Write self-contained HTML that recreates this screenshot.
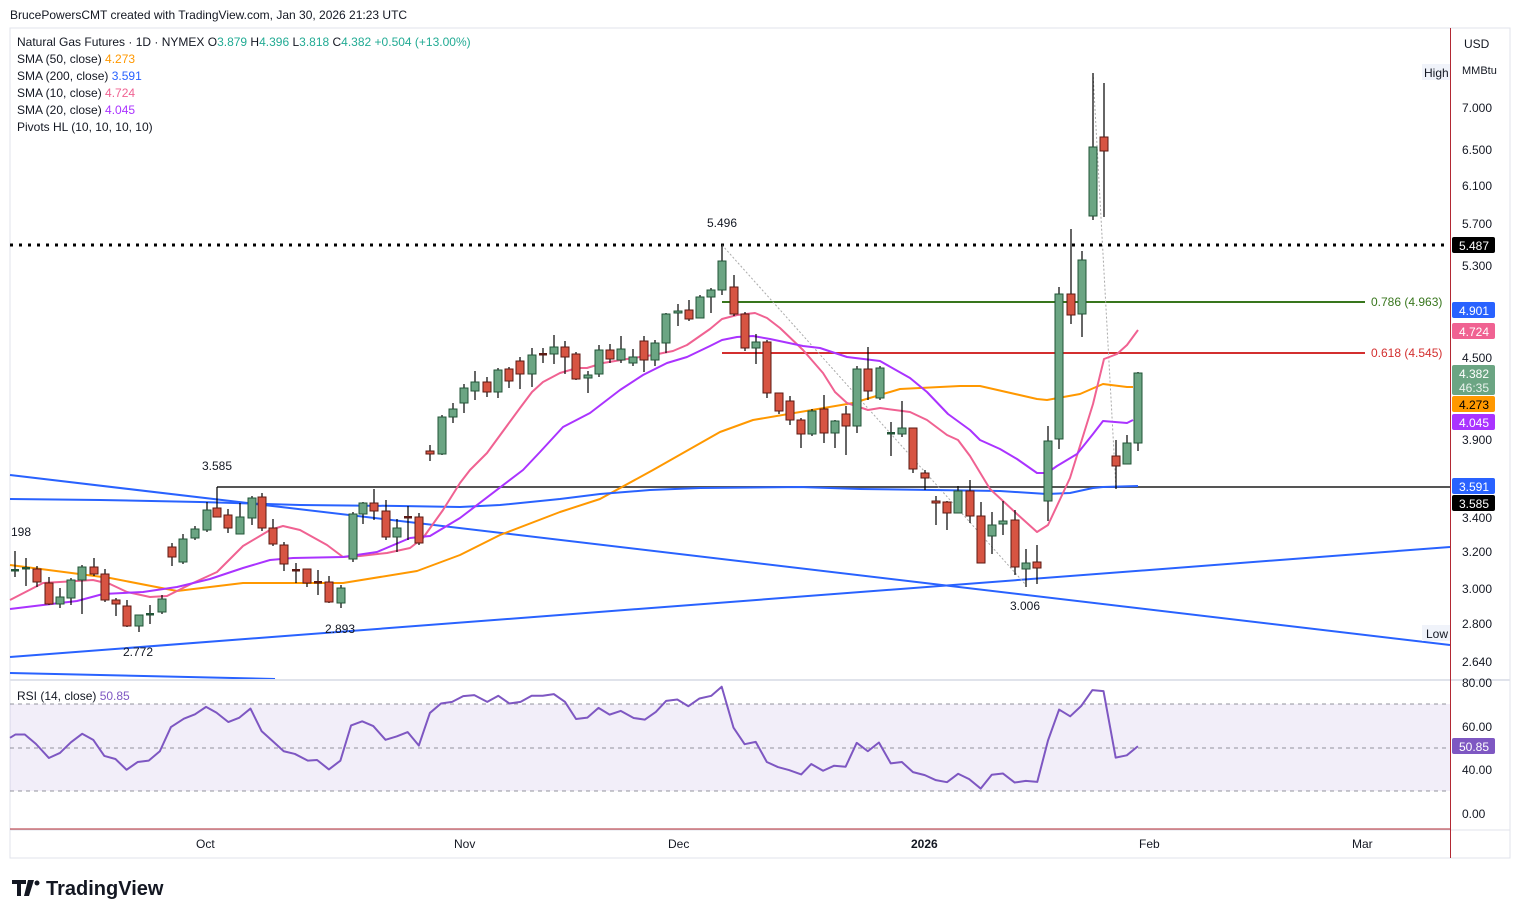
<!DOCTYPE html>
<html><head><meta charset="utf-8"><style>
body{margin:0;background:#fff;font-family:"Liberation Sans",sans-serif;}
svg text{font-family:"Liberation Sans",sans-serif;}
</style></head><body>
<svg id="s" width="1521" height="918" xmlns="http://www.w3.org/2000/svg">
<rect width="1521" height="918" fill="#fff"/>
<text x="10" y="19" font-size="12" fill="#131722">BrucePowersCMT created with TradingView.com, Jan 30, 2026 21:23 UTC</text>
<rect x="10" y="28" width="1500" height="830" fill="none" stroke="#e0e3eb"/>
<rect x="10" y="704" width="1440" height="87" fill="#7e57c2" fill-opacity="0.1"/>
<g id="g"></g>
<line x1="10" y1="680" x2="1510" y2="680" stroke="#e0e3eb" stroke-width="2"/>
<line x1="10" y1="830" x2="1510" y2="830" stroke="#e0e3eb" stroke-width="1"/>
<line x1="10" y1="829" x2="1450" y2="829" stroke="#b22833" stroke-width="1"/>
<line x1="1450.5" y1="28" x2="1450.5" y2="858" stroke="#b22833" stroke-width="1"/>
<g font-size="12" fill="#131722">
<text x="17" y="46">Natural Gas Futures · 1D · NYMEX  O<tspan fill="#22ab94">3.879</tspan>  H<tspan fill="#22ab94">4.396</tspan>  L<tspan fill="#22ab94">3.818</tspan>  C<tspan fill="#22ab94">4.382</tspan>  <tspan fill="#22ab94">+0.504 (+13.00%)</tspan></text>
<text x="17" y="63">SMA (50, close)  <tspan fill="#ff9800">4.273</tspan></text>
<text x="17" y="80">SMA (200, close)  <tspan fill="#2962ff">3.591</tspan></text>
<text x="17" y="97">SMA (10, close)  <tspan fill="#f06292">4.724</tspan></text>
<text x="17" y="114">SMA (20, close)  <tspan fill="#aa33ff">4.045</tspan></text>
<text x="17" y="131">Pivots HL (10, 10, 10, 10)</text>
<text x="17" y="700">RSI (14, close)  <tspan fill="#7e57c2">50.85</tspan></text>
<text x="1464" y="48">USD</text>
<text x="1462" y="74" font-size="11">MMBtu</text>
</g>
<g font-size="12" fill="#131722">
<text x="1462" y="112">7.000</text><text x="1462" y="154">6.500</text><text x="1462" y="190">6.100</text>
<text x="1462" y="228">5.700</text><text x="1462" y="270">5.300</text><text x="1462" y="362">4.500</text>
<text x="1462" y="444">3.900</text><text x="1462" y="522">3.400</text><text x="1462" y="556">3.200</text>
<text x="1462" y="593">3.000</text><text x="1462" y="666">2.640</text><text x="1462" y="628">2.800</text>
<text x="1462" y="687">80.00</text><text x="1462" y="731">60.00</text><text x="1462" y="774">40.00</text><text x="1462" y="818">0.00</text>
<text x="196" y="848">Oct</text><text x="454" y="848">Nov</text><text x="668" y="848">Dec</text>
<text x="911" y="848" font-weight="bold">2026</text><text x="1139" y="848">Feb</text><text x="1352" y="848">Mar</text>
</g>
<g font-size="12">
<rect x="1422" y="64" width="28" height="16" fill="#f0f3fa"/><text x="1424" y="77" fill="#131722">High</text>
<rect x="1422" y="625" width="28" height="16" fill="#f0f3fa"/><text x="1426" y="638" fill="#131722">Low</text>
<rect x="1452" y="237" width="43" height="16" rx="2" fill="#000"/><text x="1459" y="250" fill="#fff">5.487</text>
<rect x="1452" y="302" width="43" height="16" rx="2" fill="#2962ff"/><text x="1459" y="315" fill="#fff">4.901</text>
<rect x="1452" y="323" width="43" height="16" rx="2" fill="#f06292"/><text x="1459" y="336" fill="#fff">4.724</text>
<rect x="1452" y="365" width="43" height="30" rx="2" fill="#6ba583"/><text x="1459" y="378" fill="#fff">4.382</text><text x="1459" y="392" fill="#e8f2ec">46:35</text>
<rect x="1452" y="396" width="43" height="16" rx="2" fill="#ff9800"/><text x="1459" y="409" fill="#000">4.273</text>
<rect x="1452" y="414" width="43" height="16" rx="2" fill="#aa33ff"/><text x="1459" y="427" fill="#fff">4.045</text>
<rect x="1452" y="478" width="43" height="16" rx="2" fill="#2962ff"/><text x="1459" y="491" fill="#fff">3.591</text>
<rect x="1452" y="495" width="43" height="16" rx="2" fill="#000"/><text x="1459" y="508" fill="#fff">3.585</text>
<rect x="1452" y="738" width="43" height="16" rx="2" fill="#7e57c2"/><text x="1459" y="751" fill="#fff">50.85</text>
</g>
<g font-size="12" fill="#131722">
<text x="707" y="227">5.496</text><text x="202" y="470">3.585</text><text x="325" y="633">2.893</text>
<text x="123" y="656">2.772</text><text x="1010" y="610">3.006</text><text x="11" y="536">198</text>
<text x="1371" y="306" fill="#38761d">0.786 (4.963)</text>
<text x="1371" y="357" fill="#d32f2f">0.618 (4.545)</text>
</g>
<g>
<path d="M12 880h14v4h-5v12h-4v-12h-5z M28 880h6l-5 16h-5z" fill="#131722"/>
<circle cx="37" cy="883" r="2.5" fill="#131722"/>
<text x="46" y="895" font-size="20" font-weight="bold" fill="#131722">TradingView</text>
</g>
</svg>
<script>
const g=document.getElementById('g');const NS='http://www.w3.org/2000/svg';
function el(t,a){const e=document.createElementNS(NS,t);for(const k in a)e.setAttribute(k,a[k]);g.appendChild(e);return e;}
function pl(pts,c,w,extra){el('polyline',Object.assign({points:pts.map(p=>p.join(',')).join(' '),fill:'none',stroke:c,'stroke-width':w,'stroke-linejoin':'round'},extra||{}));}
[704,748,791].forEach(y=>el('line',{x1:10,x2:1450,y1:y,y2:y,stroke:'#787b86','stroke-dasharray':'4,4','stroke-width':1,'stroke-opacity':0.8}));
el('line',{x1:10,y1:475,x2:1450,y2:645,stroke:'#2962ff','stroke-width':2});
el('line',{x1:10,y1:657,x2:1450,y2:547,stroke:'#2962ff','stroke-width':2});
el('line',{x1:10,y1:673,x2:275,y2:679,stroke:'#2962ff','stroke-width':2});
el('line',{x1:10,y1:245,x2:1450,y2:245,stroke:'#000','stroke-width':3,'stroke-dasharray':'3,6'});
el('line',{x1:722,y1:302,x2:1365,y2:302,stroke:'#38761d','stroke-width':2});
el('line',{x1:722,y1:353,x2:1365,y2:353,stroke:'#d32f2f','stroke-width':2});
el('line',{x1:217,y1:487,x2:1450,y2:487,stroke:'#555','stroke-width':2});
el('line',{x1:722,y1:245,x2:1026,y2:585,stroke:'#aaa','stroke-width':1,'stroke-dasharray':'2,2'});
el('line',{x1:1093,y1:73,x2:1116,y2:489,stroke:'#aaa','stroke-width':1,'stroke-dasharray':'2,2'});
pl([[10,565],[110,578],[177,591],[243,583],[343,583],[417,571],[460,555],[500,535],[560,512],[600,499],[653,470],[720,432],[753,420],[853,403],[900,389],[960,386],[980,386],[1037,399],[1047,400],[1080,394],[1103,384],[1127,387],[1133,387]],'#ff9800',2);
pl([[10,499],[100,500],[200,502],[300,505],[400,506],[460,507],[500,505],[560,499],[600,494],[650,490],[700,488],[800,487],[860,489],[1000,491],[1047,494],[1070,493],[1093,488],[1103,487],[1138,486]],'#2962ff',2);
pl([[10,600],[43,583],[93,580],[110,584],[127,592],[150,597],[167,596],[193,583],[217,572],[243,546],[270,530],[283,526],[300,530],[327,545],[343,557],[360,556],[387,553],[410,548],[423,538],[443,510],[460,483],[470,470],[487,453],[520,408],[532,392],[543,382],[560,373],[577,368],[587,368],[603,363],[627,359],[653,355],[673,351],[687,345],[710,329],[722,319],[737,315],[755,313],[767,318],[780,328],[803,350],[823,373],[835,392],[847,403],[868,410],[880,408],[910,412],[927,420],[947,435],[958,440],[970,456],[990,489],[1003,501],[1017,514],[1037,532],[1048,525],[1070,478],[1093,404],[1104,359],[1117,354],[1127,345],[1138,330]],'#f06292',2);
pl([[10,609],[43,605],[77,601],[103,594],[143,592],[177,587],[210,579],[243,568],[270,560],[293,558],[343,557],[377,552],[410,538],[430,536],[460,518],[523,470],[540,452],[563,427],[590,413],[620,390],[643,375],[667,363],[687,357],[710,346],[722,340],[737,337],[753,336],[770,339],[803,346],[820,348],[847,357],[880,361],[910,378],[927,392],[948,414],[970,430],[980,440],[1000,449],[1017,459],[1037,473],[1047,473],[1057,466],[1077,454],[1093,434],[1103,421],[1127,423],[1133,420]],'#aa33ff',2);
const C=[[15,571,570,551,577],[26,568,568,558,586],[37,569,582,566,587],[49,583,604,577,605],[60,604,597,588,608],[71,598,580,578,605],[82,580,567,565,614],[94,567,574,558,576],[105,574,600,569,602],[116,600,604,598,616],[127,606,626,600,627],[139,626,615,615,632],[150,615,614,605,624],[162,612,599,595,614],[172,547,557,543,566],[183,562,539,534,564],[195,538,529,526,540],[207,530,510,502,532],[217,508,517,487,517],[228,515,528,509,533],[240,534,517,503,534],[252,518,498,496,525],[262,497,528,493,531],[273,528,544,519,546],[284,545,564,542,571],[296,570,571,563,583],[307,569,583,569,587],[318,582,583,570,595],[329,582,602,576,603],[341,603,588,585,608],[353,559,514,512,562],[363,514,503,502,524],[374,503,511,489,520],[386,511,537,500,540],[397,537,528,519,552],[408,517,518,506,540],[419,517,543,513,545],[430,451,454,445,461],[442,454,417,415,455],[453,417,409,403,423],[464,403,388,384,413],[475,391,382,371,400],[487,382,392,377,397],[498,392,370,368,398],[509,369,381,367,388],[520,361,374,357,389],[532,374,355,348,387],[543,354,355,348,363],[554,354,347,335,364],[565,347,357,341,374],[576,354,379,352,380],[588,378,375,371,393],[599,374,350,345,377],[610,350,359,344,363],[621,360,349,336,363],[633,363,357,349,366],[644,341,360,336,372],[655,360,343,340,366],[666,343,314,313,353],[678,313,311,304,326],[689,310,319,300,321],[700,318,297,295,318],[711,297,290,288,313],[722,290,261,245,295],[734,287,314,275,316],[745,314,348,312,351],[756,348,342,334,364],[767,342,393,340,398],[779,393,411,394,414],[790,401,420,396,425],[801,420,434,418,448],[812,434,411,409,436],[824,409,433,395,443],[835,433,421,420,448],[846,414,426,406,455],[857,426,369,366,433],[868,369,391,347,400],[880,398,368,366,400],[891,434,433,422,456],[902,434,428,401,437],[913,428,469,428,473],[925,473,478,470,490],[936,501,503,496,525],[947,502,513,501,530],[958,513,491,486,513],[970,491,516,480,523],[981,516,563,502,563],[992,536,525,512,554],[1003,524,521,501,535],[1015,520,567,510,575],[1026,569,563,549,587],[1037,562,568,545,584],[1048,501,441,426,521],[1059,439,294,287,449],[1071,294,315,229,324],[1082,314,260,251,337],[1093,216,147,73,220],[1104,137,151,83,217],[1116,456,466,440,489],[1127,464,443,435,464],[1138,443,373,372,451]];
C.forEach(([x,o,c,h,l])=>{const up=c<=o;const t=Math.min(o,c),b=Math.max(o,c);
el('line',{x1:x,x2:x,y1:h,y2:l,stroke:'#000','stroke-width':1.2});
if(b-t<2){el('rect',{x:x-4,y:t-1,width:8,height:2.5,fill:up?'#225437':'#5b1a13'});}
else el('rect',{x:x-4,y:t,width:8,height:b-t,fill:up?'#6ba583':'#d75442',stroke:up?'#225437':'#5b1a13','stroke-width':1});});
const SX=2.703,SY=2.975;
const r1=[[0,172],[15,162],[40,162],[70,190],[105,232],[135,217],[165,185],[195,160],[225,178],[255,226],[285,235],[315,267],[345,244],[375,240],[405,212],[435,140],[470,115],[500,102],[530,80],[558,97],[590,125],[620,112],[650,85],[680,152],[710,182],[740,212],[770,220],[805,240],[830,238],[862,266],[893,240],[922,135],[952,123],[982,137],[1015,178],[1045,168],[1075,155],[1105,195],[1135,98],[1165,70],[1195,65],[1225,48],[1255,45],[1290,65],[1320,47],[1350,70],[1380,65],[1410,47],[1440,47],[1470,42],[1500,65],[1530,116]].map(([a,b])=>[10+a/SX,680+b/SY]);
const r2=[[20,112],[50,83],[80,103],[110,92],[145,113],[175,118],[205,95],[233,62],[263,58],[293,78],[323,55],[355,47],[383,20],[415,142],[445,191],[475,184],[505,244],[535,259],[565,268],[598,281],[625,250],[657,270],[687,255],[718,258],[748,187],[778,212],[808,186],[840,248],[870,244],[900,274],[932,283],[962,298],[992,304],[1022,279],[1052,295],[1083,323],[1113,282],[1143,278],[1175,305],[1205,300],[1236,303],[1265,180],[1295,88],[1325,108],[1355,77],[1385,30],[1415,33],[1448,231],[1478,224],[1508,197]].map(([a,b])=>[580+a/SX,680+b/SY]);
pl(r1.concat(r2),'#7e57c2',2);
</script>
</body></html>
